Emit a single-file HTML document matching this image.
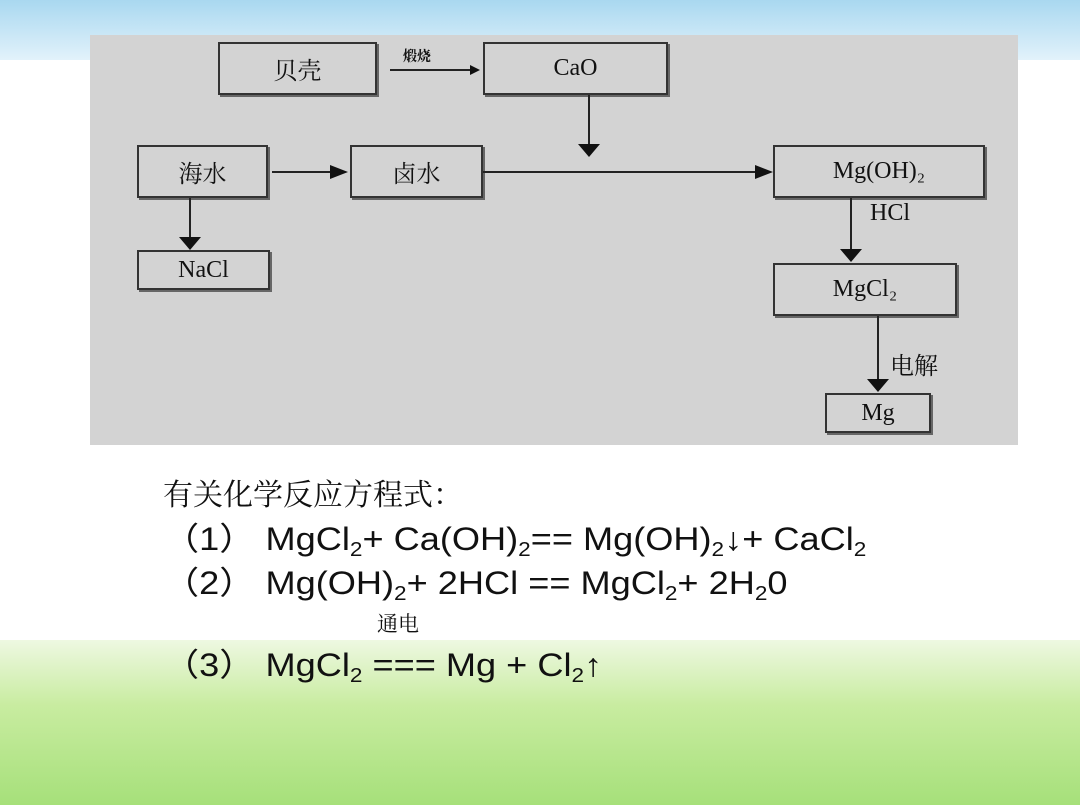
<!DOCTYPE html>
<html><head><meta charset="utf-8"><style>
body{margin:0;width:1080px;height:810px;overflow:hidden;position:relative;background:#fff;font-family:"Liberation Sans","Noto Sans CJK SC",sans-serif}
.sky{position:absolute;left:0;top:0;width:1080px;height:60px;background:linear-gradient(#a9d8f0,#e2f2fb)}
.grass{position:absolute;left:0;top:640px;width:1080px;height:165px;background:linear-gradient(#eef8e2,#c8eca0 40%,#a6e07a)}
.gray{position:absolute;left:90px;top:35px;width:928px;height:410px;background:#d3d3d3}
.b{position:absolute;border:2px solid #333;box-shadow:2px 2px 0 #666;font-family:"Liberation Serif","Noto Serif CJK SC",serif;font-size:24px;color:#111;display:flex;align-items:center;justify-content:center}
.l{position:absolute;background:#222}
.ad{position:absolute;width:0;height:0;border-left:11px solid transparent;border-right:11px solid transparent;border-top:13px solid #111}
.ar{position:absolute;width:0;height:0;border-top:7px solid transparent;border-bottom:7px solid transparent;border-left:18px solid #111}
.t{position:absolute;font-family:"Liberation Serif","Noto Serif CJK SC",serif;color:#111}
.eq{position:absolute;font-size:32px;color:#111;white-space:nowrap;transform:scaleX(1.13);transform-origin:left}
sub{font-size:20px;vertical-align:-6px}
</style></head><body>
<div class="sky"></div>
<div class="grass"></div>
<div class="gray"></div>
<div class="b" style="left:218px;top:42px;width:155px;height:49px">贝壳</div>
<div class="b" style="left:483px;top:42px;width:181px;height:49px">CaO</div>
<div class="b" style="left:137px;top:145px;width:127px;height:49px">海水</div>
<div class="b" style="left:350px;top:145px;width:129px;height:49px">卤水</div>
<div class="b" style="left:773px;top:145px;width:208px;height:49px">Mg(OH)₂</div>
<div class="b" style="left:137px;top:250px;width:129px;height:36px">NaCl</div>
<div class="b" style="left:773px;top:263px;width:180px;height:49px">MgCl₂</div>
<div class="b" style="left:825px;top:393px;width:102px;height:36px">Mg</div>
<div class="l" style="left:390px;top:69px;width:82px;height:2px"></div>
<div class="ar" style="left:470px;top:65px;border-left-width:10px;border-top-width:5px;border-bottom-width:5px"></div>
<div class="t" style="left:403px;top:46px;font-size:14px;font-weight:bold">煅烧</div>
<div class="l" style="left:588px;top:95px;width:2px;height:50px"></div>
<div class="ad" style="left:578px;top:144px"></div>
<div class="l" style="left:272px;top:171px;width:60px;height:2px"></div>
<div class="ar" style="left:330px;top:165px"></div>
<div class="l" style="left:483px;top:171px;width:272px;height:2px"></div>
<div class="ar" style="left:755px;top:165px"></div>
<div class="l" style="left:189px;top:198px;width:2px;height:40px"></div>
<div class="ad" style="left:179px;top:237px"></div>
<div class="l" style="left:850px;top:198px;width:2px;height:52px"></div>
<div class="ad" style="left:840px;top:249px"></div>
<div class="t" style="left:870px;top:200px;font-size:24px">HCl</div>
<div class="l" style="left:877px;top:316px;width:2px;height:64px"></div>
<div class="ad" style="left:867px;top:379px"></div>
<div class="t" style="left:890px;top:346px;font-size:24px">电解</div>
<div class="t" style="left:163px;top:470px;font-size:30px">有关化学反应方程式：</div>
<div class="eq" style="left:163px;top:514px">（1） MgCl<sub>2</sub>+ Ca(OH)<sub>2</sub>== Mg(OH)<sub>2</sub>↓+ CaCl<sub>2</sub></div>
<div class="eq" style="left:163px;top:558px">（2） Mg(OH)<sub>2</sub>+ 2HCl == MgCl<sub>2</sub>+ 2H<sub>2</sub>0</div>
<div class="t" style="left:377px;top:608px;font-size:21px">通电</div>
<div class="eq" style="left:163px;top:640px">（3） MgCl<sub>2</sub> === Mg + Cl<sub>2</sub>↑</div>
</body></html>
